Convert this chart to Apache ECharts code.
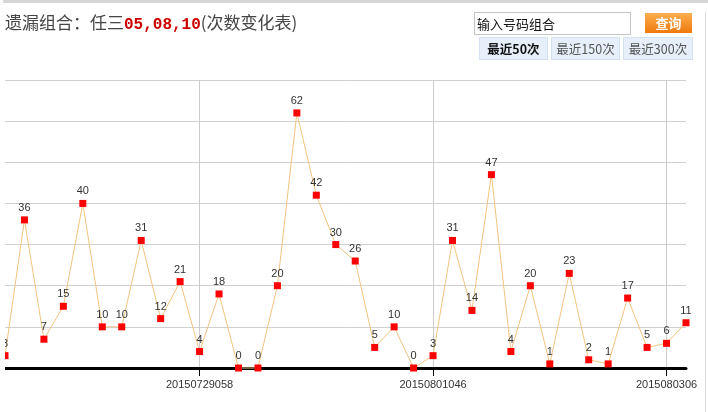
<!DOCTYPE html>
<html>
<head>
<meta charset="utf-8">
<script src="https://cdn.jsdelivr.net/npm/echarts@6/dist/echarts.min.js"></script>
<style>
  html, body { margin:0; padding:0; width:708px; height:412px; background:#fff; overflow:hidden; }
  #topbar { position:absolute; left:3px; top:0; width:705px; height:3px; background:#d6d6d6; }
  #title { position:absolute; left:5px; top:11px; font-family:"Noto Sans CJK SC", sans-serif; font-size:17px; line-height:22px; color:#444; white-space:nowrap; }
  #title .num { color:#cc0000; font-family:"Liberation Mono", monospace; font-weight:bold; font-size:16px; }
  #inp { position:absolute; left:474px; top:12px; width:157px; height:23px; box-sizing:border-box; border:1px solid #c4c4c4; background:#fff; font-family:"Noto Sans CJK SC", sans-serif; font-size:13px; line-height:21px; padding-left:2px; color:#111; }
  #btn { position:absolute; left:645px; top:13px; width:47px; height:20px; background:linear-gradient(#fcae4f,#ef7a0c); color:#fff; font-family:"Noto Sans CJK SC", sans-serif; font-weight:bold; font-size:13px; line-height:20px; text-align:center; }
  .tab { position:absolute; top:37px; height:23px; box-sizing:border-box; background:#e7f0fa; border:1px solid #d3e1f1; font-family:"Noto Sans CJK SC", sans-serif; font-size:12.5px; line-height:21px; text-align:center; color:#555; }
  #rline { position:absolute; left:705px; top:12px; width:1px; height:400px; background:#dcdcdc; }
  #chart { position:absolute; left:5px; top:0; width:700px; height:412px; }
</style>
</head>
<body>
<div id="topbar"></div>
<div id="chart"></div>
<div id="rline"></div>
<div id="title">遗漏组合：任三<span class="num">05,08,10</span>(次数变化表)</div>
<div id="inp">输入号码组合</div>
<div id="btn">查询</div>
<div class="tab" style="left:479px;width:69px;color:#111;font-weight:bold;">最近50次</div>
<div class="tab" style="left:551px;width:69px;">最近150次</div>
<div class="tab" style="left:623px;width:70px;">最近300次</div>
<script>
const categories = ['', '', '', '', '', '', '', '', '', '', '20150729058', '', '', '', '', '', '', '', '', '', '', '', '20150801046', '', '', '', '', '', '', '', '', '', '', '', '2015080306', ''];
const counts = [3, 36, 7, 15, 40, 10, 10, 31, 12, 21, 4, 18, 0, 0, 20, 62, 42, 30, 26, 5, 10, 0, 3, 31, 14, 47, 4, 20, 1, 23, 2, 1, 17, 5, 6, 11];
const yMin = 0, yMax = 70, yStep = 10;

const shown = (i) => i % 12 === 10;
const chart = echarts.init(document.getElementById('chart'), null, { renderer: 'canvas' });
chart.setOption({
  animation: false,
  grid: { left: 0, right: 19, top: 80, bottom: 44, containLabel: false },
  xAxis: {
    type: 'category',
    data: categories,
    boundaryGap: false,
    axisLine: { show: true, lineStyle: { color: '#000', width: 3 } },
    axisTick: { show: true, interval: shown, length: 8, lineStyle: { color: '#000', width: 1 } },
    axisLabel: { interval: shown, margin: 11, fontSize: 11, color: '#333', fontFamily: 'Liberation Sans, Arial, sans-serif' },
    splitLine: { show: true, interval: shown, lineStyle: { color: '#cccccc', width: 1 } }
  },
  yAxis: {
    type: 'value',
    min: yMin, max: yMax, interval: yStep,
    axisLine: { show: false }, axisTick: { show: false }, axisLabel: { show: false },
    splitLine: { show: true, lineStyle: { color: '#d0d0d0', width: 1 } }
  },
  series: [{
    type: 'line',
    data: counts,
    symbol: 'rect',
    symbolSize: 7,
    clip: false,
    itemStyle: { color: '#ff0000' },
    lineStyle: { color: '#f2c37f', width: 1 },
    label: { show: true, position: 'top', distance: 3, fontSize: 11, color: '#333', fontFamily: 'Liberation Sans, Arial, sans-serif' }
  }]
});
</script>
</body>
</html>
